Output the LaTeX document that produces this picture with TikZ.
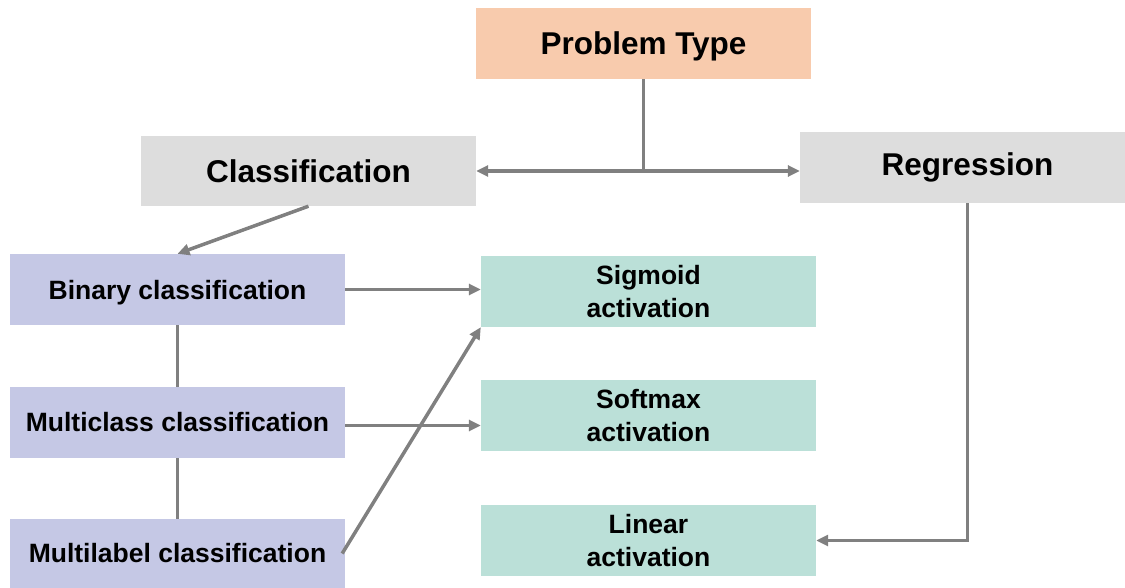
\documentclass[tikz,border=0pt]{standalone}
\usepackage{fontspec}
\setmainfont{Liberation Sans}
\usetikzlibrary{arrows.meta}

\definecolor{peach}{HTML}{F8CBAD}
\definecolor{boxgray}{HTML}{DDDDDD}
\definecolor{lavender}{HTML}{C5C8E5}
\definecolor{mint}{HTML}{BBE0D8}
\definecolor{linegray}{HTML}{808080}

\tikzset{
  box/.style={minimum width=335pt, minimum height=71pt, inner sep=0pt, align=center,
    font=\bfseries\fontsize{26.5}{33}\selectfont},
  bigbox/.style={box, font=\bfseries\fontsize{31.5}{36}\selectfont},
  link/.style={draw=linegray, line width=3.5pt},
  arr/.style={link, -{Triangle[length=12pt,width=11pt]}},
  twoarr/.style={link, {Triangle[length=12pt,width=11pt]}-{Triangle[length=12pt,width=11pt]}},
}

\begin{document}
\begin{tikzpicture}[x=1pt, y=-1pt]
    \useasboundingbox (0,0) rectangle (1125,588);

    % top level
    \node[bigbox, fill=peach, text depth=0pt] (ptype) at (643.5,43.5) {Problem Type};
    \node[bigbox, fill=boxgray, minimum height=70pt] (cls) at (308.5,171) {Classification};
    \node[bigbox, fill=boxgray] (reg) at (967.5,167.5) {Regression};

    % kinds of classification
    \node[box, fill=lavender, text depth=0pt] (bin) at (177.5,289.5) {Binary classification};
    \node[box, fill=lavender] (mcls) at (177.5,422.5) {Multiclass classification};
    \node[box, fill=lavender, minimum height=69pt] (mlab) at (177.5,553.5) {Multilabel classification};

    % output activations
    \node[box, fill=mint] (sig) at (648.5,291.5) {Sigmoid\\activation};
    \node[box, fill=mint] (soft) at (648.5,415.5) {Softmax\\activation};
    \node[box, fill=mint] (lin) at (648.5,540.5) {Linear\\activation};

    % split of the problem type
    \coordinate (split) at (ptype.south |- cls.east);
    \draw[link] (ptype.south) -- (split);
    \draw[twoarr] (cls.east) -- (cls.east -| reg.west);

    % classification branch
    \draw[arr] (cls.south) -- (bin.north);
    \draw[link] (bin.south) -- (mcls.north);
    \draw[link] (mcls.south) -- (mlab.north);
    \draw[arr] (bin.east) -- (bin.east -| sig.west);
    \draw[arr] ([yshift=-3pt]mcls.east) -- ([yshift=-3pt]mcls.east -| soft.west);
    \draw[arr] ([xshift=-3pt]mlab.east) -- (sig.south west);

    % regression branch
    \draw[arr] (reg.south) |- (lin.east);
\end{tikzpicture}
\end{document}
